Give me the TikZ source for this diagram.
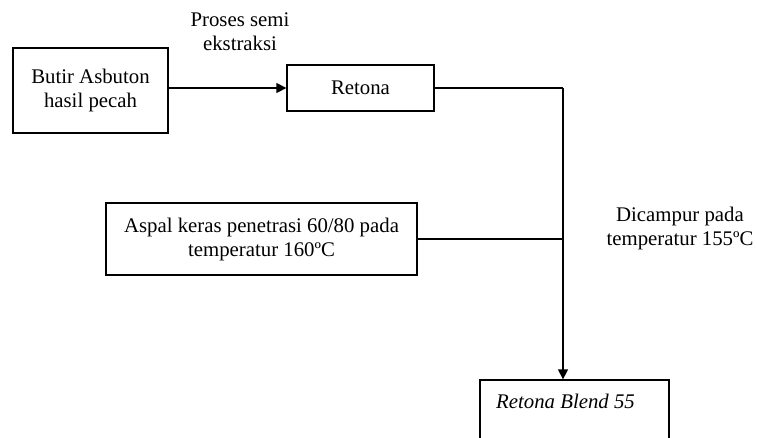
\documentclass[tikz,border=0pt]{standalone}
\usepackage{fontspec}
\setmainfont{Liberation Serif}
\usetikzlibrary{arrows.meta}
\begin{document}
\begin{tikzpicture}[x=1pt,y=-1pt,
  box/.style={draw,line width=1.3pt,inner sep=0pt,align=center,font=\fontsize{20.8}{24}\selectfont},
  lbl/.style={align=center,inner sep=0pt,font=\fontsize{20.8}{24}\selectfont},
  ln/.style={line width=1.3pt},
  arr/.style={line width=1.3pt,-{Triangle[length=10pt,width=10pt]}}]
\useasboundingbox (0,0) rectangle (757,437);
\clip (0,0) rectangle (757,437);
\node[box,minimum width=155pt,minimum height=85pt] (butir) at (90.5,90.5) {Butir Asbuton\\hasil pecah};
\node[box,minimum width=147pt,minimum height=46pt] (retona) at (360.5,88) {Retona};
\node[box,minimum width=311pt,minimum height=72pt] (aspal) at (261.5,239) {Aspal keras penetrasi 60/80 pada\\temperatur 160ºC};
\node[draw,line width=1.3pt,minimum width=189pt,minimum height=110pt,inner sep=0pt] (blend) at (574.5,435) {};
\node[lbl,anchor=west,font=\fontsize{20.8}{24}\selectfont\itshape] (blendtxt) at (496,401) {Retona Blend 55};
\node[lbl] (proses) at (240,32) {Proses semi\\ekstraksi};
\node[lbl] (campur) at (680,228) {Dicampur pada\\temperatur 155ºC};
\coordinate (j) at (563,88);
\draw[arr] (butir.east |- retona.west) -- (retona.west);
\draw[ln] (retona.east) -- (j);
\draw[arr] (j) -- (j |- blend.north);
\draw[ln] (aspal.east) -- (aspal.east -| j);
\end{tikzpicture}
\end{document}
